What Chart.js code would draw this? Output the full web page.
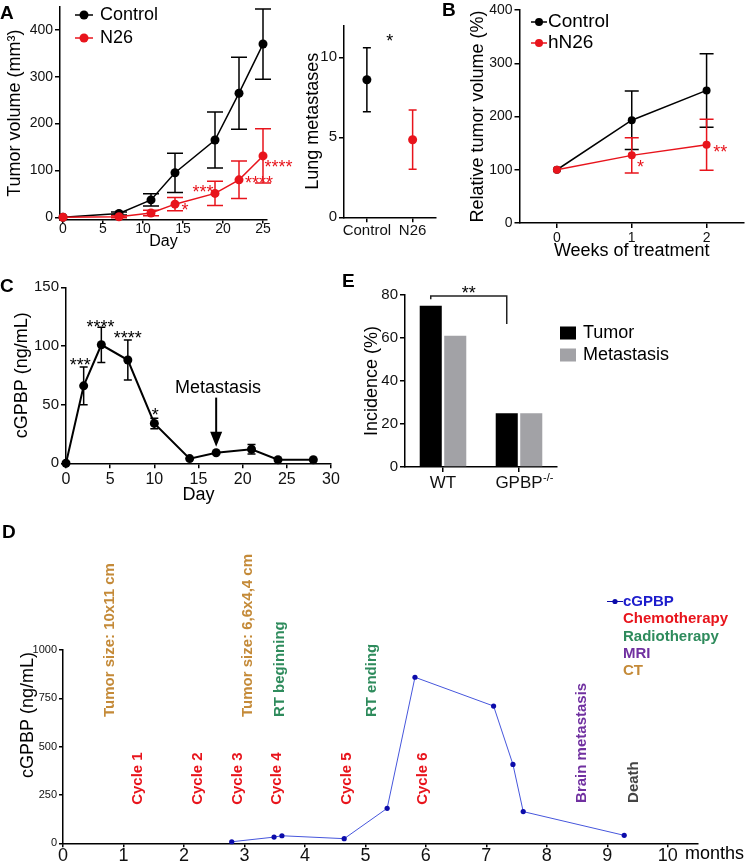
<!DOCTYPE html>
<html>
<head>
<meta charset="utf-8">
<title>cGPBP figure</title>
<script src="https://cdn.jsdelivr.net/npm/chart.js@4.4.1/dist/chart.umd.min.js"></script>
<style>
  body { margin: 0; background: #fff; }
  #fig { position: relative; width: 748px; height: 862px; overflow: hidden; }
  #fig canvas { position: absolute; }
  .tag { position: absolute; font: bold 19px Arial, "Liberation Sans", sans-serif; line-height: 19px; color: #000; }
</style>
</head>
<body>
<div id="fig">
  <canvas id="tumorChart" width="300" height="256" style="left:0;top:0"></canvas>
  <canvas id="lungChart" width="150" height="250" style="left:290px;top:0"></canvas>
  <canvas id="relChart" width="288" height="265" style="left:460px;top:0"></canvas>
  <canvas id="kineticsChart" width="380" height="240" style="left:0;top:270px"></canvas>
  <canvas id="incidenceChart" width="408" height="230" style="left:340px;top:270px"></canvas>
  <canvas id="patientChart" width="748" height="322" style="left:0;top:540px"></canvas>
  <div class="tag" style="left:0;top:3px">A</div>
  <div class="tag" style="left:442px;top:0">B</div>
  <div class="tag" style="left:0;top:276px">C</div>
  <div class="tag" style="left:342px;top:271px">E</div>
  <div class="tag" style="left:2px;top:522px">D</div>
</div>
<script>
// ---- data ----
// A: tumour growth
const daysA = [0, 7, 11, 14, 19, 22, 25]
const controlVol = [0, 8, 37, 95, 165, 265, 370]
const controlVolErr = [0, 3, 13, 42, 60, 77, 75]
const n26Vol = [0, 1, 9, 28, 51, 80, 131]
const n26VolErr = [0, 2, 6, 14, 26, 40, 58]

// A: lung metastases
const lungGroups = ['Control', 'N26']
const lungMean = [8.6, 4.85]
const lungErr = [2.0, 1.85]

// B: relative tumour volume
const weeks = [0, 1, 2]
const controlRel = [100, 193, 249]
const controlRelErr = [0, 55, 69]
const hn26Rel = [100, 127, 147]
const hn26RelErr = [0, 33, 48]

// C: serum cGPBP in mice
const daysC = [0, 2, 4, 7, 10, 14, 17, 21, 24, 28]
const cgpbpMouse = [0, 66, 101, 88, 34, 4, 9, 12, 3, 3]
const cgpbpMouseErr = [0, 16, 15, 17, 4.5, 0, 0, 4, 0, 0]

// E: incidence
const genotypes = ['WT', 'GPBP']
const tumorIncidence = [75, 25]
const metastasisIncidence = [61, 25]

// D: patient follow-up
const monthsD = [2.79, 3.49, 3.62, 4.65, 5.36, 5.82, 7.12, 7.44, 7.61, 9.28]
const cgpbpPatient = [8, 32, 39, 24, 181, 859, 710, 408, 164, 41]
const chemoCycles = ['Cycle 1', 'Cycle 2', 'Cycle 3', 'Cycle 4', 'Cycle 5', 'Cycle 6']
const chemoMonths = [1.24, 2.23, 2.89, 3.53, 4.70, 5.95]
const ctEvents = ['Tumor size: 10x11 cm', 'Tumor size: 6,6x4,4 cm']
const ctMonths = [0.78, 3.05]
const rtEvents = ['RT beginning', 'RT ending']
const rtMonths = [3.58, 5.10]
const legendD = ['cGPBP', 'Chemotherapy', 'Radiotherapy', 'MRI', 'CT']

// ---- styling ----
const FONT = 'Arial, "Liberation Sans", sans-serif'
const RED = '#e8141c'
const BLUE = '#1c1ccc'
const GREEN = '#2e8b5c'
const PURPLE = '#7030a0'
const BROWN = '#c48a38'
const GREY_BAR = '#a2a2a6'

Chart.defaults.font.family = FONT
Chart.defaults.color = '#111'
Chart.defaults.animation = false
Chart.defaults.plugins.legend.display = false
Chart.defaults.plugins.tooltip.enabled = false

const pairs = (xs, ys) => xs.map((x, i) => ({ x, y: ys[i] }))

// put the plot area at l,t,r,b (pixels from the canvas corner)
function frame(w, h, l, t, r, b) {
  return {
    layout: { padding: { left: 0, top: t, right: w - r, bottom: 0 } },
    fitY: (s) => { s.width = l; s.paddingTop = 0; s.paddingBottom = 0 },
    fitX: (s) => { s.height = h - b; s.paddingLeft = 0; s.paddingRight = 0 },
  }
}

function axisStyle(size, fit, tickLength = 5, pad = 2) {
  return {
    afterFit: fit,
    border: { color: '#000', width: 1.5 },
    grid: { drawOnChartArea: false, color: '#000', lineWidth: 1.5, tickLength, offset: false },
    ticks: { font: { size }, color: '#111', padding: pad, autoSkip: false, maxRotation: 0 },
  }
}

function linAxis(min, max, values, size, fit, tickLength, pad) {
  const a = axisStyle(size, fit, tickLength, pad)
  a.type = 'linear'
  a.min = min
  a.max = max
  a.afterBuildTicks = (s) => { s.ticks = values.map((v) => ({ value: v })) }
  a.ticks.callback = (v) => String(v)
  return a
}

const title = (text, size, top, bottom) => ({
  display: true, text, color: '#000', font: { size }, padding: { top, bottom },
})

// vertical error bars with caps, drawn under the points
const errorBars = {
  id: 'errorBars',
  beforeDatasetsDraw(chart) {
    const ctx = chart.ctx
    chart.data.datasets.forEach((ds, i) => {
      if (!ds.errorBars) return
      const meta = chart.getDatasetMeta(i)
      const yScale = chart.scales[meta.yAxisID]
      meta.data.forEach((pt, j) => {
        const e = ds.errorBars[j]
        if (!e) return
        const v = meta.controller.getParsed(j).y
        const top = yScale.getPixelForValue(v + e)
        const bot = yScale.getPixelForValue(v - e)
        const c = ds.capWidth / 2
        const col = ds.errorColor || ds.borderColor
        ctx.save()
        ctx.strokeStyle = Array.isArray(col) ? col[j] : col
        ctx.lineWidth = 1.5
        ctx.beginPath()
        ctx.moveTo(pt.x, top); ctx.lineTo(pt.x, bot)
        ctx.moveTo(pt.x - c, top); ctx.lineTo(pt.x + c, top)
        ctx.moveTo(pt.x - c, bot); ctx.lineTo(pt.x + c, bot)
        ctx.stroke()
        ctx.restore()
      })
    })
  },
}

// free text (stars, event labels), placed in data units or canvas pixels
function notes(items) {
  return {
    id: 'notes',
    afterDatasetsDraw(chart) {
      const { ctx, scales } = chart
      items.forEach((n) => {
        const px = n.px !== undefined ? n.px : scales.x.getPixelForValue(n.x)
        const py = n.py !== undefined ? n.py : scales.y.getPixelForValue(n.y)
        ctx.save()
        if (n.arrowTo !== undefined) {
          const tip = scales.y.getPixelForValue(n.arrowTo)
          ctx.strokeStyle = '#000'
          ctx.fillStyle = '#000'
          ctx.lineWidth = 2
          ctx.beginPath(); ctx.moveTo(px, py); ctx.lineTo(px, tip - 12); ctx.stroke()
          ctx.beginPath(); ctx.moveTo(px - 6, tip - 15); ctx.lineTo(px + 6, tip - 15); ctx.lineTo(px, tip); ctx.closePath(); ctx.fill()
          ctx.restore()
          return
        }
        ctx.translate(px, py + (n.dy || 0))
        if (n.rotate) ctx.rotate(-Math.PI / 2)
        ctx.font = n.font
        ctx.fillStyle = n.color || '#000'
        ctx.textAlign = n.align || 'center'
        ctx.textBaseline = n.baseline || 'middle'
        ctx.fillText(n.text, 0, 0)
        ctx.restore()
      })
    },
  }
}

// significance stars: y is where the star's centre should sit
const star = (text, x, y, color = '#000', align = 'center') =>
  ({ text, x, y, color, align, font: `18px ${FONT}`, baseline: 'alphabetic', dy: 10 })

// inset legends
function keys(items) {
  return {
    id: 'keys',
    afterDraw(chart) {
      const ctx = chart.ctx
      items.forEach((k) => {
        ctx.save()
        if (k.mark === 'line') {
          ctx.strokeStyle = k.color
          ctx.lineWidth = k.lw || 1.5
          ctx.beginPath(); ctx.moveTo(k.x - k.half, k.y); ctx.lineTo(k.x + k.half, k.y); ctx.stroke()
          ctx.fillStyle = k.color
          ctx.beginPath(); ctx.arc(k.x, k.y, k.r, 0, Math.PI * 2); ctx.fill()
        } else if (k.mark === 'box') {
          ctx.fillStyle = k.color
          ctx.fillRect(k.x, k.y - k.h / 2, k.w, k.h)
        }
        ctx.font = k.font
        ctx.fillStyle = k.textColor || k.color
        ctx.textAlign = 'left'
        ctx.textBaseline = 'middle'
        ctx.fillText(k.text, k.tx, k.y)
        ctx.restore()
      })
    },
  }
}

const lineSet = (label, data, color, err, cap, extra = {}) => Object.assign({
  label, data, borderColor: color, backgroundColor: color,
  pointBackgroundColor: color, pointBorderWidth: 0, pointRadius: 4.5,
  borderWidth: 1.5, errorBars: err, capWidth: cap, clip: false,
}, extra)

// ---- A: tumour volume ----
const fA = frame(300, 256, 60, 6.6, 267, 219.6)
new Chart(document.getElementById('tumorChart'), {
  type: 'line',
  data: {
    datasets: [
      lineSet('Control', pairs(daysA, controlVol), '#000', controlVolErr, 16),
      lineSet('N26', pairs(daysA, n26Vol), RED, n26VolErr, 16, { order: -1 }),
    ],
  },
  options: {
    responsive: false,
    layout: fA.layout,
    scales: {
      x: Object.assign(linAxis(-0.375, 25.5, [0, 5, 10, 15, 20, 25], 14, fA.fitX, 4, -3), { title: title('Day', 16, 0, 5) }),
      y: Object.assign(linAxis(-5, 450, [0, 100, 200, 300, 400], 14, fA.fitY), { title: title('Tumor volume (mm³)', 18, 4, 0) }),
    },
  },
  plugins: [errorBars, notes([
    star('*', 15.25, 24, RED),
    star('***', 17.5, 63, RED),
    star('****', 22.75, 82, RED, 'left'),
    star('****', 25.2, 116, RED, 'left'),
  ]), keys([
    { mark: 'line', text: 'Control', color: '#000', textColor: '#000', x: 84, half: 9, r: 4.5, y: 15, tx: 100, font: `18px ${FONT}` },
    { mark: 'line', text: 'N26', color: RED, textColor: '#000', x: 84, half: 9, r: 4.5, y: 38, tx: 100, font: `18px ${FONT}` },
  ])],
})

// ---- A: lung metastases ----
const fL = frame(150, 250, 54, 25.3, 148, 217.3)
new Chart(document.getElementById('lungChart'), {
  type: 'line',
  data: {
    labels: lungGroups,
    datasets: [lineSet('Lung metastases', lungMean, '#000', lungErr, 8, {
      showLine: false,
      pointBackgroundColor: ['#000', RED],
      errorColor: ['#000', RED],
    })],
  },
  options: {
    responsive: false,
    layout: fL.layout,
    scales: {
      x: Object.assign(axisStyle(15, fL.fitX, 5, 0), { type: 'category', offset: true }),
      y: Object.assign(linAxis(0, 12, [0, 5, 10], 15, fL.fitY), { title: title('Lung metastases', 18, 12, 0) }),
    },
  },
  plugins: [errorBars, notes([star('*', 0.5, 11.27)])],
})

// ---- B: relative tumour volume ----
const fB = frame(288, 265, 59.5, 10, 285.5, 223)
new Chart(document.getElementById('relChart'), {
  type: 'line',
  data: {
    datasets: [
      lineSet('Control', pairs(weeks, controlRel), '#000', controlRelErr, 14, { pointRadius: 4 }),
      lineSet('hN26', pairs(weeks, hn26Rel), RED, hn26RelErr, 14, { pointRadius: 4, order: -1 }),
    ],
  },
  options: {
    responsive: false,
    layout: fB.layout,
    scales: {
      x: Object.assign(linAxis(-0.5, 2.5, [0, 1, 2], 14, fB.fitX), { title: title('Weeks of treatment', 18, 0, 3) }),
      y: Object.assign(linAxis(0, 400, [0, 100, 200, 300, 400], 14, fB.fitY), { title: title('Relative tumor volume (%)', 18, 7, 0) }),
    },
  },
  plugins: [errorBars, notes([
    star('*', 1.07, 113, RED, 'left'),
    star('**', 2.09, 141, RED, 'left'),
  ]), keys([
    { mark: 'line', text: 'Control', color: '#000', textColor: '#000', x: 79, half: 8, r: 4, y: 22, tx: 88, font: `19px ${FONT}` },
    { mark: 'line', text: 'hN26', color: RED, textColor: '#000', x: 79, half: 8, r: 4, y: 43, tx: 88, font: `19px ${FONT}` },
  ])],
})

// ---- C: cGPBP after tumour induction ----
const fC = frame(380, 240, 66, 17.3, 331, 193.3)
new Chart(document.getElementById('kineticsChart'), {
  type: 'line',
  data: {
    datasets: [lineSet('cGPBP', pairs(daysC, cgpbpMouse), '#000', cgpbpMouseErr, 8, { borderWidth: 2 })],
  },
  options: {
    responsive: false,
    layout: fC.layout,
    scales: {
      x: Object.assign(linAxis(0, 30, [0, 5, 10, 15, 20, 25, 30], 16, fC.fitX), { title: title('Day', 18, 0, 4) }),
      y: Object.assign(linAxis(0, 150, [0, 50, 100, 150], 15, fC.fitY), { title: title('cGPBP (ng/mL)', 18, 11, 0) }),
    },
  },
  plugins: [errorBars, notes([
    star('***', 1.6, 87),
    star('****', 3.9, 120),
    star('****', 7.0, 110),
    star('*', 10.1, 45),
    { text: 'Metastasis', x: 17.2, y: 64, font: `18px ${FONT}` },
    { x: 17, y: 56, arrowTo: 14 },
  ])],
})

// ---- E: incidence ----
const fE = frame(408, 230, 65, 25, 217, 197)
new Chart(document.getElementById('incidenceChart'), {
  type: 'bar',
  data: {
    labels: genotypes,
    datasets: [
      { label: 'Tumor', data: tumorIncidence, backgroundColor: '#000', borderWidth: 0 },
      { label: 'Metastasis', data: metastasisIncidence, backgroundColor: GREY_BAR, borderWidth: 0 },
    ],
  },
  options: {
    responsive: false,
    layout: fE.layout,
    categoryPercentage: 0.645,
    barPercentage: 0.9,
    scales: {
      x: Object.assign(axisStyle(17, fE.fitX, 5, 1), { type: 'category', offset: true }),
      y: Object.assign(linAxis(0, 80, [0, 20, 40, 60, 80], 15, fE.fitY), { title: title('Incidence (%)', 18, 21, 0) }),
    },
  },
  plugins: [{
    id: 'bracket',
    afterDatasetsDraw(chart) {
      const { ctx, scales: { x, y } } = chart
      const bars = chart.getDatasetMeta(0).data
      const top = y.getPixelForValue(79.5)
      ctx.save()
      ctx.strokeStyle = '#222'
      ctx.lineWidth = 1.5
      ctx.beginPath()
      ctx.moveTo(bars[0].x, y.getPixelForValue(78)); ctx.lineTo(bars[0].x, top)
      ctx.lineTo(bars[1].x, top); ctx.lineTo(bars[1].x, y.getPixelForValue(66.5))
      ctx.stroke()
      ctx.font = `18px ${FONT}`
      ctx.fillStyle = '#000'
      ctx.textAlign = 'center'
      ctx.textBaseline = 'alphabetic'
      ctx.fillText('**', (bars[0].x + bars[1].x) / 2, top - 7 + 10)
      // superscript on the knockout label
      ctx.font = `17px ${FONT}`
      const w = ctx.measureText(genotypes[1]).width
      ctx.font = `11px ${FONT}`
      ctx.textAlign = 'left'
      ctx.textBaseline = 'top'
      ctx.fillText('-/-', x.getPixelForTick(1) + w / 2 + 0.5, x.top + 5)
      ctx.restore()
    },
  }, keys([
    { mark: 'box', text: 'Tumor', color: '#000', textColor: '#000', x: 220, w: 16, h: 13, y: 63, tx: 243, font: `18px ${FONT}` },
    { mark: 'box', text: 'Metastasis', color: GREY_BAR, textColor: '#000', x: 220, w: 16, h: 13, y: 85, tx: 243, font: `18px ${FONT}` },
  ])],
})

// ---- D: patient follow-up ----
const fD = frame(748, 322, 63, 110, 698, 303.3)
const eventFont = `bold 15px ${FONT}`
const upright = (text, x, y, color) => ({ text, x, y, color, font: eventFont, align: 'left', rotate: true })
new Chart(document.getElementById('patientChart'), {
  type: 'line',
  data: {
    datasets: [{
      label: 'cGPBP',
      data: pairs(monthsD, cgpbpPatient),
      borderColor: '#4656dc',
      borderWidth: 1,
      pointRadius: 2.6,
      pointBorderWidth: 0,
      pointBackgroundColor: '#0c0caa',
      clip: false,
    }],
  },
  options: {
    responsive: false,
    layout: fD.layout,
    scales: {
      x: linAxis(0, 10.5, [0, 1, 2, 3, 4, 5, 6, 7, 8, 9, 10], 18, fD.fitX, 4, -2),
      y: linAxis(0, 1000, [0, 250, 500, 750, 1000], 11, fD.fitY, 4, 2),
    },
  },
  plugins: [notes([
    ...ctEvents.map((t, i) => upright(t, ctMonths[i], 653, BROWN)),
    ...rtEvents.map((t, i) => upright(t, rtMonths[i], 653, GREEN)),
    ...chemoCycles.map((t, i) => upright(t, chemoMonths[i], 199, RED)),
    upright('Brain metastasis', 8.58, 209, PURPLE),
    upright('Death', 9.44, 209, '#444'),
    { text: 'cGPBP (ng/mL)', px: 28, py: 175, rotate: true, font: `18px ${FONT}` },
    { text: 'months', px: 685, py: 305.3, align: 'left', baseline: 'top', font: `18px ${FONT}` },
  ]), keys([
    { mark: 'line', text: legendD[0], color: '#0c0caa', textColor: BLUE, x: 615, half: 8, r: 2.6, lw: 1, y: 61.5, tx: 623, font: `bold 15px ${FONT}` },
    { text: legendD[1], color: RED, y: 79, tx: 623, font: `bold 15px ${FONT}` },
    { text: legendD[2], color: GREEN, y: 96.5, tx: 623, font: `bold 15px ${FONT}` },
    { text: legendD[3], color: PURPLE, y: 113.5, tx: 623, font: `bold 15px ${FONT}` },
    { text: legendD[4], color: BROWN, y: 130.5, tx: 623, font: `bold 15px ${FONT}` },
  ])],
})
</script>
</body>
</html>
